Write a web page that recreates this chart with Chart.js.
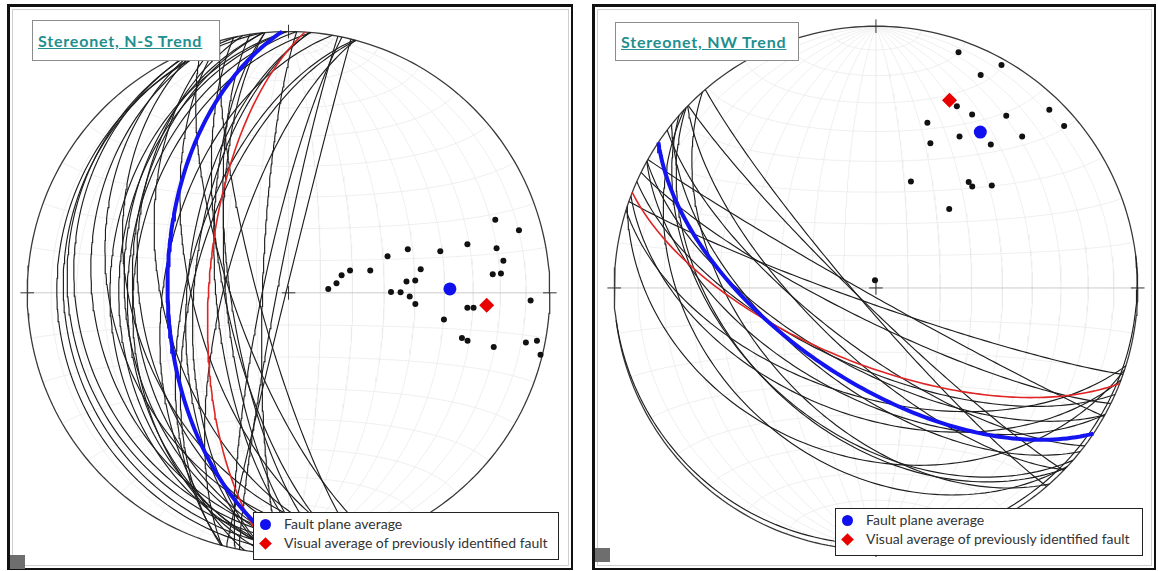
<!DOCTYPE html>
<html>
<head>
<meta charset="utf-8">
<script src="https://cdn.jsdelivr.net/npm/chart.js@4.4.1/dist/chart.umd.min.js"></script>
<style>
  body { margin: 0; background: #fff; width: 1158px; height: 571px; position: relative; overflow: hidden; font-family: Lato, 'Open Sans', sans-serif; }
  .frame { position: absolute; box-sizing: border-box; border-style: solid; border-color: #111; border-width: 3px 2px 2px 3px; }
  .frame .inner { position: absolute; left: 2px; top: 2px; right: 2px; bottom: 2px; border: 1px solid #cfcfcf; }
  canvas { position: absolute; }
  .title { position: absolute; box-sizing: border-box; background: #fff; border: 1px solid #8c8c8c; color: #1f8f8f; font-weight: bold; font-size: 16px; letter-spacing: 0.8px; text-decoration: underline; padding-left: 5px; display: flex; align-items: center; white-space: nowrap; }
  .legend { position: absolute; box-sizing: border-box; background: #fff; border: 1.5px solid #222; color: #333; font-size: 14px; }
  .legend .row { position: absolute; left: 30px; white-space: nowrap; line-height: 16px; }
  .legend .sym { position: absolute; }
  .corner { position: absolute; width: 15px; height: 14px; background: #6e6e6e; }
</style>
</head>
<body>
<div class="frame" style="left:7px;top:4px;width:566px;height:566px"><div class="inner"></div></div>
<div class="frame" style="left:592px;top:4px;width:564px;height:566px"><div class="inner"></div></div>
<canvas id="netNS" width="560" height="559" style="left:10px;top:7px"></canvas>
<canvas id="netNW" width="558" height="559" style="left:595px;top:7px"></canvas>
<div class="title" id="titleNS" style="left:32px;top:20px;width:188px;height:41px"></div>
<div class="title" id="titleNW" style="left:615px;top:22px;width:184px;height:39px"></div>
<div class="legend" id="legendNS" style="left:253px;top:512px;width:306px;height:48px"></div>
<div class="legend" id="legendNW" style="left:835px;top:508px;width:308px;height:48px"></div>
<div class="corner" style="left:10px;top:555px"></div>
<div class="corner" style="left:595px;top:548px"></div>
<script>
const panelTitles = ['Stereonet, N-S Trend', 'Stereonet, NW Trend'];
const legendLabels = ['Fault plane average', 'Visual average of previously identified fault'];

// Poles to fault planes, N-S trend set (trend, plunge in degrees)
const nsPoleTrend = [70.5, 74.8, 74.8, 77.9, 69.9, 74.7, 69.7, 81.5, 70.0, 74.7, 79.9, 71.7, 84.8, 84.8, 84.5, 84.4,
                     78.8, 84.4, 89.6, 89.7, 91.7, 95.0, 94.8, 94.6, 91.8, 99.7, 104.6, 105.0, 104.8, 101.8, 100.9, 103.8];
const nsPolePlunge = [17.2, 9.5, 29.8, 19.7, 49.8, 39.6, 56.8, 18.0, 69.6, 63.5, 47.4, 72.6, 22.6, 19.5, 52.6, 49.7,
                      74.8, 77.6, 57.8, 54.7, 51.7, 49.7, 31.9, 29.7, 8.1, 39.5, 32.0, 29.8, 19.9, 8.0, 3.6, 0.8];
const nsAverage = [88.6, 38.2];      // fault plane average pole
const nsVisual = [93.6, 25.0];       // visual average of previously identified fault

// Poles to fault planes, NW trend set
const nwPoleTrend = [19.3, 29.4, 26.2, 24.0, 29.0, 37.1, 44.2, 49.3, 17.3, 28.9, 38.7, 44.0, 20.6, 18.2, 41.2, 43.5,
                     48.5, 42.9, 352.9];
const nwPolePlunge = [5.1, 2.6, 10.3, 25.0, 25.2, 18.6, 5.6, 5.8, 34.3, 34.3, 30.5, 20.7, 40.6, 54.8, 45.3, 45.6,
                      40.6, 56.2, 87.6];
const nwAverage = [33.8, 29.1];
const nwVisual = [21.4, 24.0];

const D2R = Math.PI / 180;

function toVec(trend, plunge) {
    const t = trend * D2R, p = plunge * D2R;
    return [Math.sin(t) * Math.cos(p), Math.cos(t) * Math.cos(p), Math.sin(p)];
}

// equal-area (Schmidt), lower hemisphere
function project(v) {
    let [e, n, d] = v;
    if (d < 0) { e = -e; n = -n; d = -d; }
    const k = 1 / Math.sqrt(1 + d);
    return { x: e * k, y: n * k };
}

function greatCircle(trend, plunge) {
    const n = toVec(trend, plunge);
    const s = [Math.cos(trend * D2R), -Math.sin(trend * D2R), 0];
    let u = [n[1] * s[2] - n[2] * s[1], n[2] * s[0] - n[0] * s[2], n[0] * s[1] - n[1] * s[0]];
    if (u[2] < 0) u = u.map(c => -c);
    const pts = [];
    for (let i = 0; i <= 120; i++) {
        const a = i * Math.PI / 120;
        pts.push(project([0, 1, 2].map(k => Math.cos(a) * s[k] + Math.sin(a) * u[k])));
    }
    return pts;
}

function smallCircle(alpha, side) {
    const pts = [];
    for (let i = 0; i <= 90; i++) {
        const psi = i * Math.PI / 90;
        pts.push(project([Math.sin(alpha * D2R) * Math.cos(psi), side * Math.cos(alpha * D2R), Math.sin(alpha * D2R) * Math.sin(psi)]));
    }
    return pts;
}

function lineSet(data, color, width, order) {
    return { data, showLine: true, borderColor: color, borderWidth: width, pointRadius: 0, fill: false, tension: 0, order };
}

function makeNet(id, cx, cy, R, poleT, poleP, avg, vis) {
    const cv = document.getElementById(id);
    const left = parseFloat(cv.style.left), top = parseFloat(cv.style.top);
    const xMin = (left - cx) / R, xMax = (left + cv.width - cx) / R;
    const yMax = (cy - top) / R, yMin = (cy - top - cv.height) / R;

    const datasets = [];
    // net grid
    for (let dip = 10; dip <= 80; dip += 10) {
        datasets.push(lineSet(greatCircle(90, 90 - dip), '#ebebeb', 0.8, 100));
        datasets.push(lineSet(greatCircle(270, 90 - dip), '#ebebeb', 0.8, 100));
        datasets.push(lineSet(smallCircle(dip, 1), '#ebebeb', 0.8, 100));
        datasets.push(lineSet(smallCircle(dip, -1), '#ebebeb', 0.8, 100));
    }
    datasets.push(lineSet(greatCircle(90, 0), '#e4e4e4', 0.8, 99));
    datasets.push(lineSet(greatCircle(0, 0), '#c4c4c4', 0.9, 99));
    // primitive
    const prim = [];
    for (let i = 0; i <= 240; i++) prim.push({ x: Math.cos(i * Math.PI / 120), y: Math.sin(i * Math.PI / 120) });
    datasets.push(lineSet(prim, '#3a3a3a', 1.3, 60));
    // ticks
    const tk = 7 / R;
    datasets.push(lineSet([{ x: -tk, y: 0 }, { x: tk, y: 0 }], '#333', 1, 60));
    datasets.push(lineSet([{ x: 0, y: -tk }, { x: 0, y: tk }], '#333', 1, 60));
    [[1, 0], [-1, 0], [0, 1], [0, -1]].forEach(([a, b]) => {
        datasets.push(lineSet([{ x: a * (1 - tk), y: b * (1 - tk) }, { x: a * (1 + tk), y: b * (1 + tk) }], '#333', 1, 60));
    });
    // fault planes
    poleT.forEach((t, i) => datasets.push(lineSet(greatCircle(t, poleP[i]), '#1e1e1e', 1.15, 50)));
    datasets.push(lineSet(greatCircle(vis[0], vis[1]), '#e02424', 1.6, 40));
    datasets.push(lineSet(greatCircle(avg[0], avg[1]), '#1414f0', 4, 30));
    // poles
    datasets.push({ data: poleT.map((t, i) => project(toVec(t, poleP[i]))), pointRadius: 3, pointBackgroundColor: '#111', pointBorderWidth: 0, showLine: false, order: 20 });
    datasets.push({ data: [project(toVec(avg[0], avg[1]))], pointRadius: 6.5, pointBackgroundColor: '#1010ee', pointBorderWidth: 0, showLine: false, order: 10 });
    datasets.push({ data: [project(toVec(vis[0], vis[1]))], pointStyle: 'rectRot', pointRadius: 7.5, pointBackgroundColor: '#e80000', pointBorderWidth: 0, showLine: false, order: 5 });

    return new Chart(cv.getContext('2d'), {
        type: 'scatter',
        data: { datasets },
        options: {
            responsive: false,
            animation: false,
            events: [],
            layout: { padding: 0 },
            plugins: { legend: { display: false }, tooltip: { enabled: false } },
            scales: {
                x: { type: 'linear', display: false, min: xMin, max: xMax },
                y: { type: 'linear', display: false, min: yMin, max: yMax }
            }
        }
    });
}

function fillLegend(id, symX, textX, rowY) {
    const box = document.getElementById(id);
    const dot = document.createElement('div');
    dot.className = 'sym';
    dot.style.cssText = `left:${symX - 5.5}px;top:${rowY[0] - 5.5}px;width:11px;height:11px;border-radius:50%;background:#1010ee`;
    const dia = document.createElement('div');
    dia.className = 'sym';
    dia.style.cssText = `left:${symX - 4.5}px;top:${rowY[1] - 4.5}px;width:9px;height:9px;background:#e80000;transform:rotate(45deg)`;
    box.appendChild(dot);
    box.appendChild(dia);
    legendLabels.forEach((txt, i) => {
        const r = document.createElement('div');
        r.className = 'row';
        r.style.left = textX + 'px';
        r.style.top = (rowY[i] - 8) + 'px';
        r.textContent = txt;
        box.appendChild(r);
    });
}

document.getElementById('titleNS').textContent = panelTitles[0];
document.getElementById('titleNW').textContent = panelTitles[1];
fillLegend('legendNS', 11, 30, [11, 30]);
fillLegend('legendNW', 11, 30, [11, 30]);

makeNet('netNS', 288.5, 293, 268.5, nsPoleTrend, nsPolePlunge, nsAverage, nsVisual);
makeNet('netNW', 876, 288, 269, nwPoleTrend, nwPolePlunge, nwAverage, nwVisual);
</script>
</body>
</html>
